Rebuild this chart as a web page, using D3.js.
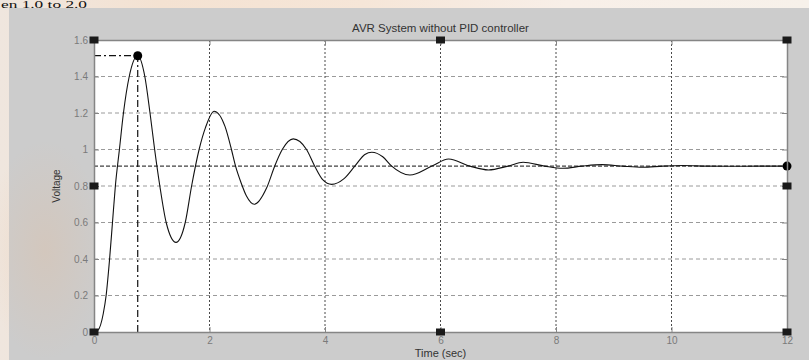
<!DOCTYPE html>
<html>
<head>
<meta charset="utf-8">
<script src="https://cdn.jsdelivr.net/npm/d3@7"></script>
<style>
  html, body { margin: 0; padding: 0; background: #f6eee6; }
  svg { display: block; }
</style>
</head>
<body>
<svg id="chart" width="809" height="360"></svg>
<script>
// ---------------- data ----------------
const titleText = "AVR System without PID controller";
const xLabelText = "Time (sec)";
const yLabelText = "Voltage";
const xTicks = [0, 2, 4, 6, 8, 10, 12];
const xTickLabels = ["0", "2", "4", "6", "8", "10", "12"];
const yTicks = [0, 0.2, 0.4, 0.6, 0.8, 1.0, 1.2, 1.4, 1.6];
const yTickLabels = ["0", "0.2", "0.4", "0.6", "0.8", "1", "1.2", "1.4", "1.6"];
const timeSec = [0, 0.07, 0.16, 0.21, 0.27, 0.32, 0.37, 0.44, 0.51, 0.61, 0.757,
  0.88, 0.97, 1.05, 1.14, 1.25, 1.42, 1.58, 1.69, 1.82, 1.93, 2.08,
  2.27, 2.38, 2.45, 2.55, 2.64, 2.776, 2.99, 3.13, 3.26, 3.45,
  3.68, 3.82, 3.96, 4.115, 4.33, 4.52, 4.69, 4.81, 5.0, 5.15, 5.47,
  5.85, 6.14, 6.51, 6.83, 7.17, 7.43, 7.8, 8.12, 8.45, 8.8, 9.15,
  9.5, 9.85, 10.2, 10.6, 11.0, 11.5, 12.0];
const voltage = [0, 0.01, 0.10, 0.20, 0.40, 0.60, 0.80, 1.00, 1.20, 1.40, 1.514,
  1.40, 1.20, 1.00, 0.80, 0.60, 0.491, 0.60, 0.80, 1.00, 1.12, 1.21,
  1.125, 1.00, 0.91, 0.815, 0.745, 0.70, 0.79, 0.91, 1.00, 1.058,
  1.00, 0.91, 0.835, 0.809, 0.84, 0.91, 0.973, 0.985, 0.96, 0.91, 0.86,
  0.909, 0.948, 0.909, 0.888, 0.909, 0.93, 0.909, 0.897, 0.909, 0.917, 0.909,
  0.903, 0.909, 0.912, 0.909, 0.908, 0.909, 0.909];
const peakTime = 0.757;
const peakValue = 1.514;
const steadyValue = 0.909;
const endTime = 12;
const xDomain = [0, 12];
const yDomain = [0, 1.6];
const backdropText = "en 1.0 to 2.0";

// ---------------- layout ----------------
const svg = d3.select("#chart");
const W = 809, H = 360;
const plot = { left: 94, top: 40, right: 787, bottom: 332 };

const x = d3.scaleLinear().domain(xDomain).range([plot.left, plot.right]);
const y = d3.scaleLinear().domain(yDomain).range([plot.bottom, plot.top]);

// document background behind the figure
const defs = svg.append("defs");
const bg = defs.append("linearGradient").attr("id", "docbg").attr("x1", 0).attr("x2", 1).attr("y1", 0).attr("y2", 0);
bg.append("stop").attr("offset", "0%").attr("stop-color", "#efe6de");
bg.append("stop").attr("offset", "20%").attr("stop-color", "#f4e2d2");
bg.append("stop").attr("offset", "45%").attr("stop-color", "#f6e6d8");
bg.append("stop").attr("offset", "70%").attr("stop-color", "#f8efe8");
bg.append("stop").attr("offset", "100%").attr("stop-color", "#f7f1ea");
svg.append("rect").attr("width", W).attr("height", H).attr("fill", "url(#docbg)");

svg.append("text")
  .attr("x", 1).attr("y", 7.5)
  .attr("font-family", "'Liberation Serif', 'Times New Roman', serif")
  .attr("font-size", 10)
  .attr("textLength", 86)
  .attr("lengthAdjust", "spacingAndGlyphs")
  .attr("fill", "#111")
  .text(backdropText);

// figure panel
svg.append("rect")
  .attr("x", 9).attr("y", 8).attr("width", W - 9).attr("height", H - 8)
  .attr("fill", "#cccccc");

// faint watermark tint on the grey panel
const wm = defs.append("radialGradient").attr("id", "wm");
wm.append("stop").attr("offset", "0%").attr("stop-color", "#e8b890").attr("stop-opacity", 0.25);
wm.append("stop").attr("offset", "100%").attr("stop-color", "#e8b890").attr("stop-opacity", 0);
svg.append("ellipse").attr("cx", 45).attr("cy", 250).attr("rx", 60).attr("ry", 110).attr("fill", "url(#wm)");

// axes background
svg.append("rect")
  .attr("x", plot.left).attr("y", plot.top)
  .attr("width", plot.right - plot.left).attr("height", plot.bottom - plot.top)
  .attr("fill", "#ffffff");

// grid
const grid = svg.append("g");
grid.selectAll("line.h").data(yTicks.filter(v => v > yDomain[0] && v < yDomain[1])).join("line")
  .attr("x1", plot.left).attr("x2", plot.right)
  .attr("y1", d => y(d)).attr("y2", d => y(d))
  .attr("stroke", "#9a9a9a").attr("stroke-width", 1).attr("stroke-dasharray", "4,3");
grid.selectAll("line.v").data(xTicks.filter(v => v > xDomain[0] && v < xDomain[1])).join("line")
  .attr("y1", plot.top).attr("y2", plot.bottom)
  .attr("x1", d => x(d)).attr("x2", d => x(d))
  .attr("stroke", "#4a4a4a").attr("stroke-width", 1).attr("stroke-dasharray", "2,2");

// reference lines
const refs = svg.append("g");
refs.append("line")
  .attr("x1", x(0)).attr("x2", x(endTime))
  .attr("y1", y(steadyValue)).attr("y2", y(steadyValue))
  .attr("stroke", "#111").attr("stroke-width", 1).attr("stroke-dasharray", "4,2");
refs.append("line")
  .attr("x1", x(peakTime)).attr("x2", x(peakTime))
  .attr("y1", y(0)).attr("y2", y(peakValue))
  .attr("stroke", "#111").attr("stroke-width", 1.2).attr("stroke-dasharray", "7,3,2,3");
refs.append("line")
  .attr("x1", x(0)).attr("x2", x(peakTime))
  .attr("y1", y(peakValue)).attr("y2", y(peakValue))
  .attr("stroke", "#111").attr("stroke-width", 1.2).attr("stroke-dasharray", "7,3,2,3");

// response curve
const pts = timeSec.map((t, i) => [t, voltage[i]]);
svg.append("path")
  .datum(pts)
  .attr("fill", "none")
  .attr("stroke", "#111")
  .attr("stroke-width", 1.1)
  .attr("d", d3.line().x(d => x(d[0])).y(d => y(d[1])).curve(d3.curveMonotoneX));

// markers
svg.append("circle").attr("cx", x(peakTime)).attr("cy", y(peakValue)).attr("r", 4.5).attr("fill", "#000");
svg.append("circle").attr("cx", x(endTime)).attr("cy", y(steadyValue)).attr("r", 4.5).attr("fill", "#000");

// axes (ticks inside, MATLAB style)
const axisColor = "#858585";
function styleAxis(g) {
  g.select(".domain").attr("stroke", axisColor).attr("stroke-width", 1.5);
  g.selectAll(".tick line").attr("stroke", axisColor).attr("stroke-width", 1);
  g.selectAll(".tick text").attr("fill", "#7a7a7a")
    .attr("font-family", "Arial, 'Liberation Sans', sans-serif").attr("font-size", 10);
}
svg.append("g").attr("transform", `translate(0,${plot.bottom})`)
  .call(d3.axisBottom(x).tickValues(xTicks).tickFormat((d, i) => xTickLabels[i]).tickSize(-5).tickSizeOuter(0).tickPadding(5))
  .call(styleAxis);
svg.append("g").attr("transform", `translate(0,${plot.top})`)
  .call(d3.axisTop(x).tickValues(xTicks).tickFormat("").tickSize(-5).tickSizeOuter(0))
  .call(styleAxis);
svg.append("g").attr("transform", `translate(${plot.left},0)`)
  .call(d3.axisLeft(y).tickValues(yTicks).tickFormat((d, i) => yTickLabels[i]).tickSize(-5).tickSizeOuter(0).tickPadding(6))
  .call(styleAxis);
svg.append("g").attr("transform", `translate(${plot.right},0)`)
  .call(d3.axisRight(y).tickValues(yTicks).tickFormat("").tickSize(-5).tickSizeOuter(0))
  .call(styleAxis);

// selection handles
const handles = [
  [xDomain[0], yDomain[1]], [(xDomain[0] + xDomain[1]) / 2, yDomain[1]], [xDomain[1], yDomain[1]],
  [xDomain[0], (yDomain[0] + yDomain[1]) / 2], [xDomain[1], (yDomain[0] + yDomain[1]) / 2],
  [xDomain[0], yDomain[0]], [(xDomain[0] + xDomain[1]) / 2, yDomain[0]], [xDomain[1], yDomain[0]]
];
svg.append("g").selectAll("rect").data(handles).join("rect")
  .attr("x", d => x(d[0]) - 4.5).attr("y", d => y(d[1]) - 3.5)
  .attr("width", 9).attr("height", 7).attr("fill", "#1a1a1a");

// title & labels
svg.append("text")
  .attr("x", (plot.left + plot.right) / 2).attr("y", 32)
  .attr("text-anchor", "middle")
  .attr("font-family", "Arial, 'Liberation Sans', sans-serif").attr("font-size", 11.5)
  .attr("fill", "#333")
  .text(titleText);
svg.append("text")
  .attr("x", (plot.left + plot.right) / 2).attr("y", 356.5)
  .attr("text-anchor", "middle")
  .attr("font-family", "Arial, 'Liberation Sans', sans-serif").attr("font-size", 11)
  .attr("fill", "#333")
  .text(xLabelText);
svg.append("text")
  .attr("transform", `translate(60,${y(0.8)}) rotate(-90)`)
  .attr("text-anchor", "middle")
  .attr("font-family", "Arial, 'Liberation Sans', sans-serif").attr("font-size", 10)
  .attr("fill", "#333")
  .text(yLabelText);
</script>
</body>
</html>
